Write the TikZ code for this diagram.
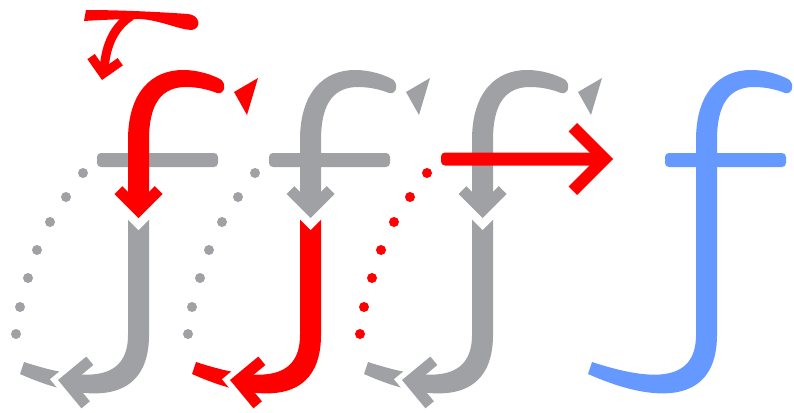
\documentclass[tikz,border=0pt]{standalone}
\definecolor{fgray}{RGB}{160,161,164}
\definecolor{fred}{RGB}{255,0,0}
\definecolor{fblue}{RGB}{102,153,255}
% chevron pointing along +x, tip at origin shifted by #3; #1 = arm reach, #2 = arm width
\newcommand\chevpath[3]{(#3,0) -- ({#3-#1},{-#1}) -- ({#3-#1-0.7071*#2},{-#1+0.7071*#2}) -- ({#3-1.4142*#2},0) -- ({#3-#1-0.7071*#2},{#1-0.7071*#2}) -- ({#3-#1},{#1}) -- cycle}
\newcommand\glyphpath{(128,140) .. controls (128,92) and (152,70) .. (183,70) .. controls (199,70) and (212,75) .. (220,79) .. controls (227,83) and (225,95) .. (217,93) .. controls (207,89) and (196,87) .. (186,87) .. controls (162,87) and (149,103) .. (149,140) -- (149,335) .. controls (149,402) and (92,406) .. (20,374) -- (24,362) .. controls (85,382) and (128,382) .. (128,335) -- cycle}
\newcommand\fparts[3]{%
  \foreach \p in {(83,173),(66,197),(50,222),(37,250),(28,278),(20,307),(16,334)} \fill[#3] \p circle (5);
  \begin{scope}\clip (0,205) rectangle (260,412); \fill[#2] \glyphpath; \end{scope}
  \fill[white, shift={(58,380)}, rotate=174.6] \chevpath{26}{11}{8};
  \fill[#2, shift={(58,380)}, rotate=174.6] \chevpath{26}{11}{0};
  \fill[white, shift={(138.5,218)}, rotate=-90] \chevpath{24}{11}{12};
  \begin{scope}\clip (0,0) rectangle (260,205); \fill[#1] \glyphpath; \end{scope}
  \fill[#1, shift={(138.5,218)}, rotate=-90] \chevpath{24}{11}{0};
  \fill[#1] (234,92) -- (258,78) -- (247,115) -- cycle;
}
\begin{document}
\begin{tikzpicture}[x=1pt,y=-1pt]
\useasboundingbox (0,0) rectangle (794,412);
\fill[white] (0,0) rectangle (794,412);
% panel 1
\begin{scope}
  \fill[fgray, rounded corners=4] (97,153) rectangle (218,167);
  \fparts{fred}{fgray}{fgray}
  \fill[fred] (84,21) -- (86,10) .. controls (120,10) and (160,12) .. (188,14) .. controls (200,15) and (202,28) .. (192,30) .. controls (180,30) and (160,20) .. (140,19) .. controls (120,19) and (100,20) .. (84,21) -- cycle;
  \draw[fred, line width=9] (131,16) .. controls (114,27) and (106,45) .. (104.2,68);
  \fill[fred, shift={(102,80)}, rotate=260] \chevpath{18}{9}{0};
\end{scope}
% panel 2
\begin{scope}[xshift=172]
  \fill[fgray, rounded corners=4] (97,153) rectangle (218,167);
  \fparts{fgray}{fred}{fgray}
\end{scope}
% panel 3
\begin{scope}[xshift=344]
  \fparts{fgray}{fgray}{fred}
  \fill[fred, rounded corners=4] (97,152.5) rectangle (256,165.5);
  \fill[fred, shift={(269,159)}, rotate=0] \chevpath{36}{12}{0};
\end{scope}
% final letter
\begin{scope}[xshift=568]
  \fill[fblue, rounded corners=4] (97,153) rectangle (218,167);
  \fill[fblue] \glyphpath;
\end{scope}
\end{tikzpicture}
\end{document}
